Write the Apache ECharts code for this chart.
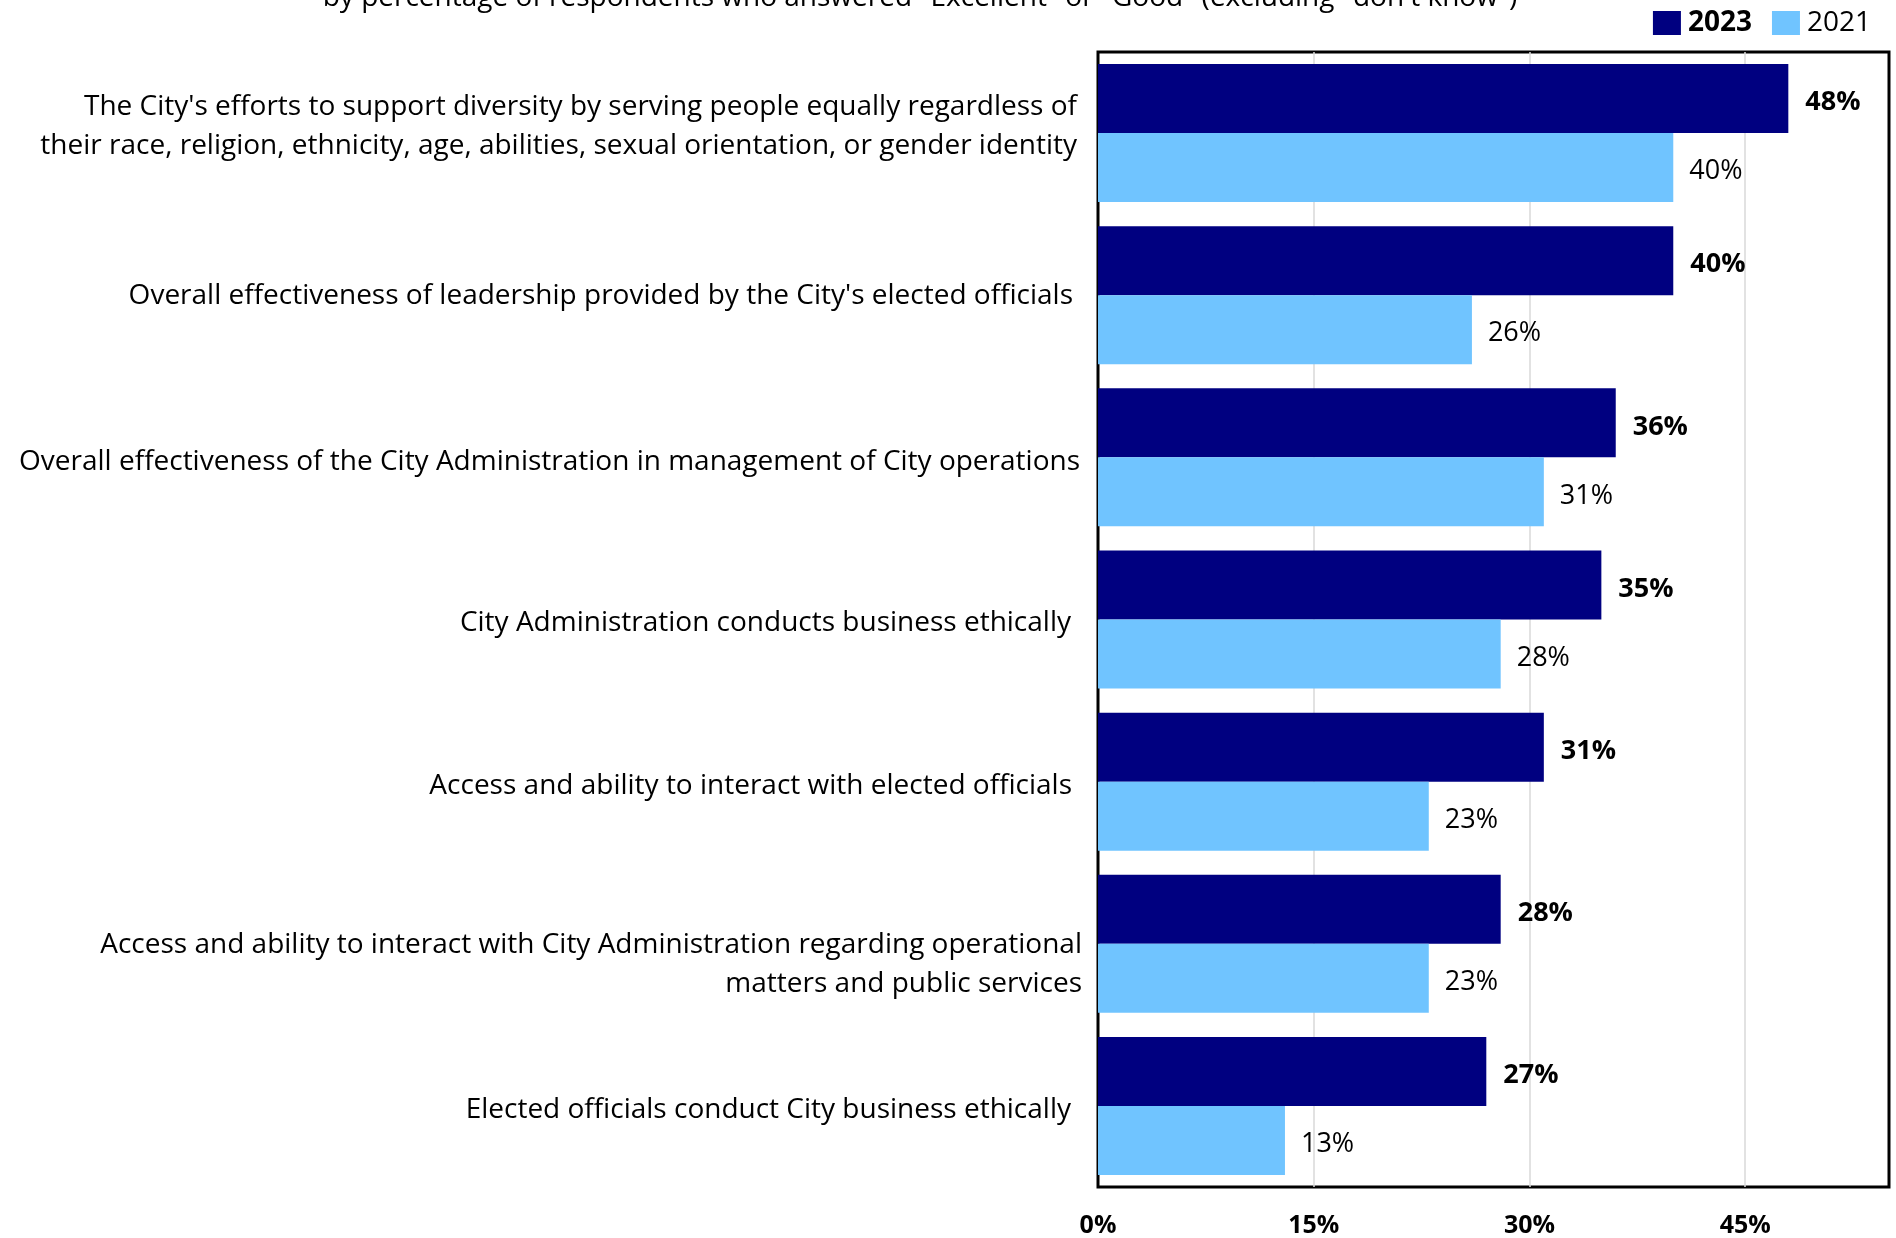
<!DOCTYPE html>
<html>
<head>
<meta charset="utf-8">
<title>Ratings of City leadership and administration</title>
<script src="https://cdn.jsdelivr.net/npm/echarts@6/dist/echarts.min.js"></script>
<style>
  html, body { margin: 0; padding: 0; background: #ffffff; }
  #chart { width: 1896px; height: 1238px; }
</style>
</head>
<body>
<div id="chart"></div>
<script>
// Survey items, top to bottom
var categories = [
  "The City's efforts to support diversity by serving people equally regardless of\ntheir race, religion, ethnicity, age, abilities, sexual orientation, or gender identity",
  "Overall effectiveness of leadership provided by the City's elected officials",
  "Overall effectiveness of the City Administration in management of City operations",
  "City Administration conducts business ethically",
  "Access and ability to interact with elected officials",
  "Access and ability to interact with City Administration regarding operational\nmatters and public services",
  "Elected officials conduct City business ethically"
];

// Percent answering "Excellent" or "Good"
var values2023 = [48, 40, 36, 35, 31, 28, 27];
var values2021 = [40, 26, 31, 28, 23, 23, 13];

var xTicks = [0, 15, 30, 45];

var subtitle = 'by percentage of respondents who answered "Excellent" or "Good" (excluding "don\'t know")';

var FONT = "'Open Sans', sans-serif";

// Label nudges: vertical shift in px (positive = down) and right-side inset
var labelShift = [-7, 1, 5, 4, 4, 21, 4];
var labelInset = [5, 9, 2, 11, 10, 0, 11];

var yData = categories.map(function (name, i) {
  return { value: name, textStyle: { padding: [0, labelInset[i], 0, 0] } };
});

// Invisible spacer lines used to shift a label up or down
var labelRich = {};
labelShift.forEach(function (s, i) {
  labelRich['g' + i] = { fontSize: 1, lineHeight: Math.max(1, Math.abs(s) * 2) };
});

var chart = echarts.init(document.getElementById('chart'), null, { renderer: 'canvas' });

chart.setOption({
  backgroundColor: '#ffffff',
  animation: false,
  textStyle: { fontFamily: FONT, color: '#000' },
  graphic: [{
    type: 'text',
    x: 920,
    y: -16,
    style: {
      text: subtitle,
      font: '28px ' + FONT,
      fill: '#000',
      align: 'center'
    }
  }],
  legend: {
    top: 4,
    right: 20,
    icon: 'rect',
    itemWidth: 28,
    itemHeight: 24,
    itemGap: 20,
    textStyle: { fontSize: 28, fontFamily: FONT, color: '#000', padding: [0, 0, 0, 2] },
    data: [
      { name: '2023', textStyle: { fontWeight: 'bold' } },
      { name: '2021' }
    ]
  },
  grid: {
    left: 1098,
    right: 7,
    top: 52,
    bottom: 50.5,
    show: true,
    borderColor: '#000',
    borderWidth: 3,
    backgroundColor: 'transparent'
  },
  xAxis: {
    type: 'value',
    min: 0,
    max: 55,
    interval: 15,
    axisLine: { show: false },
    axisTick: { show: false },
    splitLine: {
      show: true,
      showMinLine: false,
      showMaxLine: false,
      lineStyle: { color: '#d9d9d9', width: 1.5 }
    },
    axisLabel: {
      margin: 26,
      fontSize: 25,
      fontWeight: 'bold',
      color: '#000',
      fontFamily: FONT,
      formatter: function (v) { return xTicks.indexOf(v) >= 0 ? v + '%' : ''; }
    }
  },
  yAxis: {
    type: 'category',
    inverse: true,
    data: yData,
    axisLine: { show: false },
    axisTick: { show: false },
    axisLabel: {
      margin: 16,
      fontSize: 28,
      lineHeight: 39,
      color: '#000',
      fontFamily: FONT,
      align: 'right',
      rich: labelRich,
      formatter: function (value, index) {
        var s = labelShift[index];
        if (s > 0) return '{g' + index + '| }\n' + value;
        if (s < 0) return value + '\n{g' + index + '| }';
        return value;
      }
    }
  },
  series: [
    {
      name: '2023',
      type: 'bar',
      data: values2023,
      barWidth: 69,
      barGap: '0%',
      itemStyle: { color: '#000080' },
      label: {
        show: true,
        position: 'right',
        distance: 17,
        offset: [0, 4],
        formatter: '{c}%',
        fontSize: 27,
        fontWeight: 'bold',
        color: '#000',
        fontFamily: FONT
      }
    },
    {
      name: '2021',
      type: 'bar',
      data: values2021,
      barWidth: 69,
      barGap: '0%',
      itemStyle: { color: '#70c4ff' },
      label: {
        show: true,
        position: 'right',
        distance: 16,
        offset: [0, 4],
        formatter: '{c}%',
        fontSize: 27,
        color: '#000',
        fontFamily: FONT
      }
    }
  ]
});
</script>
</body>
</html>
